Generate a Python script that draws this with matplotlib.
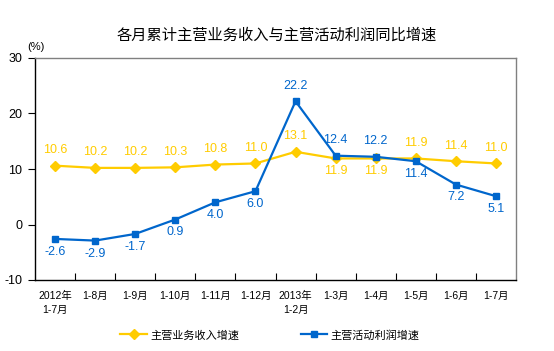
import matplotlib
matplotlib.use("Agg")
import matplotlib.pyplot as plt

plt.rcParams['font.family'] = ['Liberation Sans', 'Noto Sans CJK SC', 'DejaVu Sans']

categories = ["2012年\n1-7月", "1-8月", "1-9月", "1-10月", "1-11月", "1-12月",
              "2013年\n1-2月", "1-3月", "1-4月", "1-5月", "1-6月", "1-7月"]
revenue = [10.6, 10.2, 10.2, 10.3, 10.8, 11.0, 13.1, 11.9, 11.9, 11.9, 11.4, 11.0]
profit = [-2.6, -2.9, -1.7, 0.9, 4.0, 6.0, 22.2, 12.4, 12.2, 11.4, 7.2, 5.1]
rev_above = [True, True, True, True, True, True, True, False, False, True, True, True]
prof_above = [False, False, False, False, False, False, True, True, True, False, False, False]

yellow = '#FFCC00'
blue = '#0066CC'

fig = plt.figure(figsize=(5.54, 3.51), dpi=100)
ax = fig.add_axes([35/554, 1 - 280/351, (516 - 35)/554, (280 - 58)/351])

x = list(range(len(categories)))
ax.plot(x, revenue, color=yellow, lw=1.6, marker='D', ms=5, label='主营业务收入增速')
ax.plot(x, profit, color=blue, lw=1.6, marker='s', ms=5, label='主营活动利润增速')

for xi, v, up in zip(x, revenue, rev_above):
    ax.annotate(f"{v:.1f}", (xi, v), xytext=(0, 7 if up else -5), textcoords='offset points',
                ha='center', va='bottom' if up else 'top', color=yellow, fontsize=9)
for xi, v, up in zip(x, profit, prof_above):
    ax.annotate(f"{v:.1f}", (xi, v), xytext=(0, 7 if up else -5), textcoords='offset points',
                ha='center', va='bottom' if up else 'top', color=blue, fontsize=9)

ax.set_xlim(-0.5, len(categories) - 0.5)
ax.set_ylim(-10, 30)
ax.set_yticks([-10, 0, 10, 20, 30])
ax.set_yticklabels(['-10', '0', '10', '20', '30'], fontsize=9)
ax.tick_params(axis='y', direction='out', length=5, width=0.8, pad=4)

ax.set_xticks([i + 0.5 for i in range(len(categories) - 1)], minor=False)
ax.set_xticklabels([])
ax.tick_params(axis='x', direction='in', length=5, width=0.8)
ax.set_xticks(x, minor=True)
ax.set_xticklabels(categories, minor=True, fontsize=7.5, linespacing=1.5)
ax.tick_params(axis='x', which='minor', length=0, pad=8)

for s in ['left', 'bottom']:
    ax.spines[s].set_color('black')
    ax.spines[s].set_linewidth(1)
for s in ['top', 'right']:
    ax.spines[s].set_color('#808080')
    ax.spines[s].set_linewidth(1)

fig.text(277/554, 1 - 35/351, '各月累计主营业务收入与主营活动利润同比增速', ha='center', va='center',
         fontsize=11)
fig.text(36/554, 1 - 47/351, '(%)', ha='center', va='center', fontsize=8)

ax.legend(loc='center', bbox_to_anchor=(270/554, 1 - 335/351), bbox_transform=fig.transFigure,
          ncol=2, frameon=False, fontsize=8, handlelength=2.4, columnspacing=5.5,
          handletextpad=0.3)

fig.savefig('out.png', dpi=100)
